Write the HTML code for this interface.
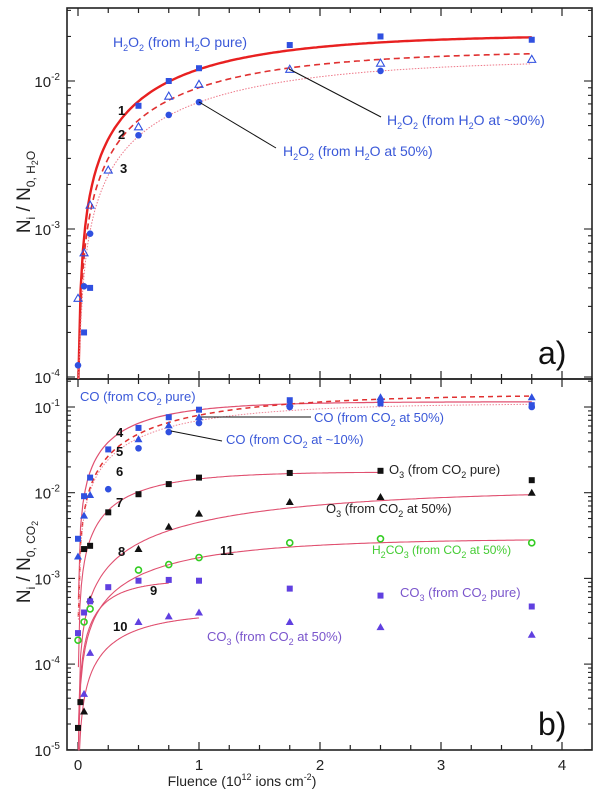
<!DOCTYPE html>
<html><head><meta charset="utf-8">
<style>
html,body{margin:0;padding:0;background:#fff;}
svg{display:block;font-family:"Liberation Sans",sans-serif;}
</style></head>
<body>
<svg id="chart" width="600" height="791" viewBox="0 0 600 791"></svg>
<script>
// ---------- data ----------
const fluenceTicks = [0,1,2,3,4];
// Panel a
const h2oPureX = [0.05,0.1,0.5,0.75,1,1.75,2.5,3.75];
const h2oPureY = [2e-4,4e-4,6.8e-3,1e-2,1.22e-2,1.75e-2,2.0e-2,1.9e-2];
const h2o90X = [0,0.05,0.1,0.25,0.5,0.75,1,1.75,2.5,3.75];
const h2o90Y = [3.4e-4,6.9e-4,1.45e-3,2.5e-3,4.9e-3,7.9e-3,9.5e-3,1.2e-2,1.32e-2,1.4e-2];
const h2o50X = [0,0.05,0.1,0.5,0.75,1,2.5];
const h2o50Y = [1.2e-4,4.1e-4,9.3e-4,4.3e-3,5.9e-3,7.2e-3,1.17e-2];
const fitA_top = [0.0205,0.016,0.014];
const fitS_top = [0.88,0.83,0.72];
// Panel b
const coPureX = [0,0.05,0.1,0.25,0.5,0.75,1,1.75,2.5,3.75];
const coPureY = [2.9e-3,9.1e-3,1.5e-2,3.2e-2,5.7e-2,7.6e-2,9.3e-2,0.12,0.11,0.105];
const co50X = [0,0.05,0.1,0.5,0.75,1,1.75,2.5,3.75];
const co50Y = [1.8e-3,5.4e-3,9.4e-3,4.2e-2,6.1e-2,7.6e-2,0.11,0.13,0.13];
const co10X = [0.25,0.5,0.75,1,1.75,2.5,3.75];
const co10Y = [1.1e-2,3.3e-2,5.1e-2,6.5e-2,0.1,0.115,0.1];
const o3PureX = [0,0.02,0.05,0.1,0.25,0.5,0.75,1,1.75,2.5,3.75];
const o3PureY = [1.8e-5,3.6e-5,2.2e-3,2.4e-3,5.9e-3,9.6e-3,1.26e-2,1.5e-2,1.7e-2,1.8e-2,1.4e-2];
const o350X = [0.05,0.1,0.5,0.75,1,1.75,2.5,3.75];
const o350Y = [2.8e-5,5.7e-4,2.2e-3,4e-3,5.7e-3,7.8e-3,8.9e-3,1.0e-2];
const h2co3X = [0,0.05,0.1,0.5,0.75,1,1.75,2.5,3.75];
const h2co3Y = [1.9e-4,3.1e-4,4.4e-4,1.25e-3,1.45e-3,1.75e-3,2.6e-3,2.9e-3,2.6e-3];
const co3PureX = [0,0.05,0.1,0.25,0.5,0.75,1,1.75,2.5,3.75];
const co3PureY = [2.3e-4,4e-4,5.4e-4,7.9e-4,9.4e-4,9.6e-4,9.4e-4,7.6e-4,6.3e-4,4.7e-4];
const co350X = [0.05,0.1,0.5,0.75,1,1.75,2.5,3.75];
const co350Y = [4.5e-5,1.35e-4,3.1e-4,3.6e-4,4.0e-4,3.1e-4,2.7e-4,2.2e-4];
const fitA_bot = [0.115,0.14,0.11,0.0175,0.011,0.00095,0.0004,0.0029];
const fitS_bot = [1.65,0.85,1.0,1.76,0.53,3.5,2.0,0.92];
const fitEnd_bot = [3.75,3.75,3.75,2.5,3.75,0.75,1,3.75];

// ---------- scales ----------
const X0=78, XS=121;
const xs = v => X0 + v*XS;
const yA = v => 81 - (Math.log10(v)+2)*148;
const yB = v => 407 - (Math.log10(v)+1)*85.7;
const L=67,R=592,T=8,MID=379,B=750;
const svg=document.getElementById('chart');
const NS='http://www.w3.org/2000/svg';
function mk(tag,attrs,parent){const e=document.createElementNS(NS,tag);for(const k in attrs)e.setAttribute(k,attrs[k]);(parent||svg).appendChild(e);return e;}

// frames
const fa=mk('rect',{x:L,y:T,width:R-L,height:MID-T,fill:'none',stroke:'#222','stroke-width':1.6});


const fb=mk('rect',{x:L,y:MID,width:R-L,height:B-MID,fill:'none',stroke:'#222','stroke-width':1.6});



// x ticks
for(let i=0;i<=17;i++){
  const v=i*0.25, x=xs(v), len=(i%4===0)?8:5;
  if(x>R) break;
  for(const [y0,dir] of [[T,1],[MID,-1],[MID,1],[B,-1]]){
    const t=mk('line',{x1:x,x2:x,y1:y0,y2:y0+dir*len,stroke:'#222','stroke-width':1.2});
    
    
  }
}
fluenceTicks.forEach(v=>{
  const t=mk('text',{x:xs(v),y:770,'text-anchor':'middle','font-size':15,fill:'#222'});
  t.textContent=v;
  
  
});

// y ticks
function yTicks(scale,dmin,dmax,top,bot){
  for(let d=dmin;d<=dmax;d++){
    for(let m=1;m<10;m++){
      const v=m*Math.pow(10,d), y=scale(v);
      if(y<top-0.5||y>bot+0.5) continue;
      const len=m===1?8:4;
      const a=mk('line',{x1:L,x2:L+len,y1:y,y2:y,stroke:'#222','stroke-width':1.1});
      
      
      const b=mk('line',{x1:R,x2:R-len,y1:y,y2:y,stroke:'#222','stroke-width':1.1});
      
      
    }
  }
}
yTicks(yA,-5,-2,T,MID);
yTicks(yB,-5,-1,MID,B);
function yLab(y,exp){
  const t=mk('text',{x:60,y:y+6,'text-anchor':'end','font-size':15,fill:'#222'});
  t.innerHTML='10<tspan dy="-7" font-size="10">'+exp+'</tspan>';
  
  
}
[-2,-3,-4].forEach(e=>yLab(yA(Math.pow(10,e)),e));
[-1,-2,-3,-4,-5].forEach(e=>yLab(yB(Math.pow(10,e)),e));

// curves
function curve(A,S,end,scale,color,dash,width,name){
  let d='';
  for(let i=0;i<=200;i++){
    const f=0.003+ (end-0.003)*i/200; const v=A*(1-Math.exp(-S*f));
    let y=scale(v); if(scale===yA&&y>MID) y=MID; if(scale===yB&&y>B) y=B;
    d+=(i?'L':'M')+xs(f).toFixed(1)+','+y.toFixed(1);
  }
  const p=mk('path',{d:d,fill:'none',stroke:color,'stroke-width':width,'stroke-dasharray':dash});
  
  
}
curve(fitA_top[0],fitS_top[0],3.75,yA,'#e82020','none',2.4,'fit-curve-1');
curve(fitA_top[1],fitS_top[1],3.75,yA,'#e03030','6,4',1.6,'fit-curve-2');
curve(fitA_top[2],fitS_top[2],3.75,yA,'#ee7788','1.5,1.5',1,'fit-curve-3');
const bStyles=[['none',1.2,'#e05070'],['5,4',1.5,'#e03030'],['1.5,1.5',1,'#ee8899'],['none',1.1,'#e05070'],['none',1.1,'#e05070'],['none',1.1,'#e05070'],['none',1.1,'#e05070'],['none',1.1,'#e05070']];
fitA_bot.forEach((A,i)=>curve(A,fitS_bot[i],fitEnd_bot[i],yB,bStyles[i][2],bStyles[i][0],bStyles[i][1],'fit-curve-'+(i+4)));

// markers
function pts(X,Y,scale,shape,color,name){
  X.forEach((xv,i)=>{
    const x=xs(xv), y=scale(Y[i]); let e;
    if(shape==='sq') e=mk('rect',{x:x-3,y:y-3,width:6,height:6,fill:color});
    else if(shape==='circ') e=mk('circle',{cx:x,cy:y,r:3.3,fill:color});
    else if(shape==='ocirc') e=mk('circle',{cx:x,cy:y,r:3,fill:'none',stroke:color,'stroke-width':1.6});
    else if(shape==='tri') e=mk('polygon',{points:`${x},${y-4} ${x-4},${y+3} ${x+4},${y+3}`,fill:color});
    else e=mk('polygon',{points:`${x},${y-4} ${x-4},${y+3} ${x+4},${y+3}`,fill:'none',stroke:color,'stroke-width':1.1});
    
    
  });
}
const BLUE='#3050e0', PUR='#6040e0';
pts(h2oPureX,h2oPureY,yA,'sq',BLUE,'h2o2-pure-point');
pts(h2o90X,h2o90Y,yA,'otri',BLUE,'h2o2-90-point');
pts(h2o50X,h2o50Y,yA,'circ',BLUE,'h2o2-50-point');
pts(coPureX,coPureY,yB,'sq',BLUE,'co-pure-point');
pts(co50X,co50Y,yB,'tri',BLUE,'co-50-point');
pts(co10X,co10Y,yB,'circ',BLUE,'co-10-point');
pts(o3PureX,o3PureY,yB,'sq','#111','o3-pure-point');
pts(o350X,o350Y,yB,'tri','#111','o3-50-point');
pts(h2co3X,h2co3Y,yB,'ocirc','#33cc22','h2co3-point');
pts(co3PureX,co3PureY,yB,'sq',PUR,'co3-pure-point');
pts(co350X,co350Y,yB,'tri',PUR,'co3-50-point');

// annotation lines
[[289,69,381,117],[199,102,276,148],[201,417,311,417],[171,431,222,441]].forEach(c=>{
  const l=mk('line',{x1:c[0],y1:c[1],x2:c[2],y2:c[3],stroke:'#111','stroke-width':1});
  
  
});

// labels
function lab(x,y,html,color,size,name,weight){
  const t=mk('text',{x:x,y:y,'font-size':size,fill:color,'font-weight':weight||'normal'});
  t.innerHTML=html;
  
  
}
const sub=s=>'<tspan dy="4" font-size="9">'+s+'</tspan><tspan dy="-4">';
const LB='#3a58d8', LP='#7a55cc';
lab(113,47,'H'+sub('2')+'O'+sub('2')+' (from H'+sub('2')+'O pure)</tspan></tspan></tspan>',LB,14,'label-h2o2-pure');
lab(387,125,'H'+sub('2')+'O'+sub('2')+' (from H'+sub('2')+'O at ~90%)</tspan></tspan></tspan>',LB,14,'label-h2o2-90');
lab(283,156,'H'+sub('2')+'O'+sub('2')+' (from H'+sub('2')+'O at 50%)</tspan></tspan></tspan>',LB,14,'label-h2o2-50');
lab(80,401,'CO (from CO'+sub('2')+' pure)</tspan>',LB,13,'label-co-pure');
lab(314,422,'CO (from CO'+sub('2')+' at 50%)</tspan>',LB,13,'label-co-50');
lab(226,444,'CO (from CO'+sub('2')+' at ~10%)</tspan>',LB,13,'label-co-10');
lab(389,474,'O'+sub('3')+' (from CO'+sub('2')+' pure)</tspan></tspan>','#222',13,'label-o3-pure');
lab(326,513,'O'+sub('3')+' (from CO'+sub('2')+' at 50%)</tspan></tspan>','#222',13,'label-o3-50');
lab(372,554,'H'+sub('2')+'CO'+sub('3')+' (from CO'+sub('2')+' at 50%)</tspan></tspan></tspan>','#44cc33',12,'label-h2co3');
lab(400,597,'CO'+sub('3')+' (from CO'+sub('2')+' pure)</tspan></tspan>',LP,13,'label-co3-pure');
lab(207,641,'CO'+sub('3')+' (from CO'+sub('2')+' at 50%)</tspan></tspan>',LP,13,'label-co3-50');
[['1',118,115],['2',118,139],['3',120,173],['4',116,437],['5',116,456],['6',116,476],['7',116,507],['8',118,556],['9',150,595],['10',113,631],['11',220,555]].forEach(n=>lab(n[1],n[2],n[0],'#111',13,'curve-number-'+n[0],'bold'));
lab(538,364,'a)','#111',32,'panel-a-label');
lab(538,735,'b)','#111',32,'panel-b-label');

// axis titles
const ta=mk('text',{transform:'translate(30,192) rotate(-90)','text-anchor':'middle','font-size':19,fill:'#222'});
ta.innerHTML='N<tspan dy="5" font-size="12">i</tspan><tspan dy="-5"> / N</tspan><tspan dy="5" font-size="12">0, H</tspan><tspan dy="3" font-size="9">2</tspan><tspan dy="-3" font-size="12">O</tspan>';


const tb=mk('text',{transform:'translate(30,562) rotate(-90)','text-anchor':'middle','font-size':19,fill:'#222'});
tb.innerHTML='N<tspan dy="5" font-size="12">i</tspan><tspan dy="-5"> / N</tspan><tspan dy="5" font-size="12">0, CO</tspan><tspan dy="3" font-size="9">2</tspan>';


const tx=mk('text',{x:242,y:786,'text-anchor':'middle','font-size':14,fill:'#222'});
tx.innerHTML='Fluence (10<tspan dy="-6" font-size="9">12</tspan><tspan dy="6"> ions cm</tspan><tspan dy="-6" font-size="9">-2</tspan><tspan dy="6">)</tspan>';


</script>
</body></html>
